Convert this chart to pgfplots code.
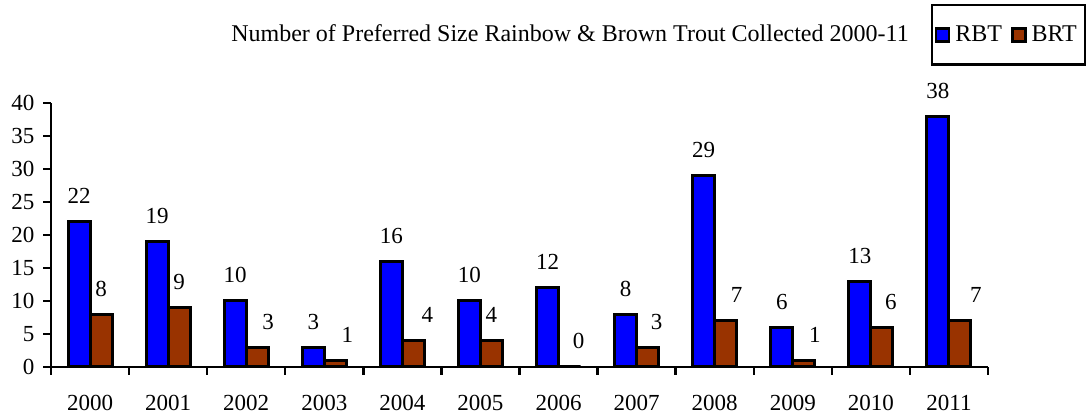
\documentclass[border=0pt]{standalone}
\usepackage{fontspec}
\setmainfont{Liberation Serif}
\usepackage{pgfplots}
\pgfplotsset{compat=1.18}
\usepackage{pgfplotstable}
\definecolor{rbt}{RGB}{0,0,255}
\definecolor{brt}{RGB}{153,51,0}
\pgfplotstableread{
x year rbt brt bs
0 2000 22 8 0
1 2001 19 9 0
2 2002 10 3 11
3 2003 3 1 12
4 2004 16 4 14
5 2005 10 4 0
6 2006 12 0 9
7 2007 8 3 9
8 2008 29 7 11
9 2009 6 1 11
10 2010 13 6 9
11 2011 38 7 16
}\data
\newcommand{\lab}{\fontsize{23}{27}\selectfont}
\newcommand{\bigf}{\fontsize{24}{28}\selectfont}
\pgfplotsset{sqlegend/.style={legend image code/.code={\draw[##1,/tikz/.cd,line width=2.4pt] (0pt,-6.5pt) rectangle (13pt,6.5pt);}}}
\begin{document}
\begin{tikzpicture}
\begin{axis}[
  name=ax,
  scale only axis,
  width=937pt, height=264pt,
  xmin=-0.5, xmax=11.5, ymin=0, ymax=40,
  axis lines*=left,
  axis line style={line width=2.4pt, black},
  ybar=0pt, bar width=22pt,
  ytick={0,5,...,40},
  xtick={0,...,11},
  xticklabels={2000,2001,2002,2003,2004,2005,2006,2007,2008,2009,2010,2011},
  minor xtick={-0.5,0.5,...,11.5},
  tick align=outside,
  major tick length=8pt, minor tick length=8pt,
  major x tick style={draw=none},
  minor x tick style={line width=2.4pt, black},
  major y tick style={line width=2.4pt, black},
  /pgf/number format/assume math mode=true,
  tick label style={font=\lab},
  xticklabel style={yshift=-17pt},
  yticklabel style={xshift=-5pt},
  legend columns=2,
  legend style={at={(0.939,1.375)}, anchor=north west, draw=black, line width=2.4pt,
    font=\bigf, inner xsep=3pt, inner ysep=19pt,
    nodes={inner xsep=5pt},
    /tikz/every even column/.append style={column sep=4pt}},
  nodes near coords,
  every node near coord/.append style={font=\lab, anchor=base, inner sep=0pt, yshift=18pt, xshift=\bshift pt},
]
\addplot[fill=rbt, draw=black, line width=3pt, visualization depends on={0 \as \bshift}, sqlegend]
  table[x=x, y=rbt] {\data};
\addplot[fill=brt, draw=black, line width=3pt, visualization depends on={\thisrow{bs} \as \bshift}, sqlegend]
  table[x=x, y=brt] {\data};
\legend{RBT, BRT}
\end{axis}
\node[anchor=base, font=\bigf] at ([shift={(519pt,325pt)}]ax.south west) {Number of Preferred Size Rainbow \& Brown Trout Collected 2000-11};
\pgfresetboundingbox
\path[use as bounding box] ([shift={(-51pt,-47pt)}]ax.south west) rectangle ++(1086pt,414pt);
\end{tikzpicture}
\end{document}
